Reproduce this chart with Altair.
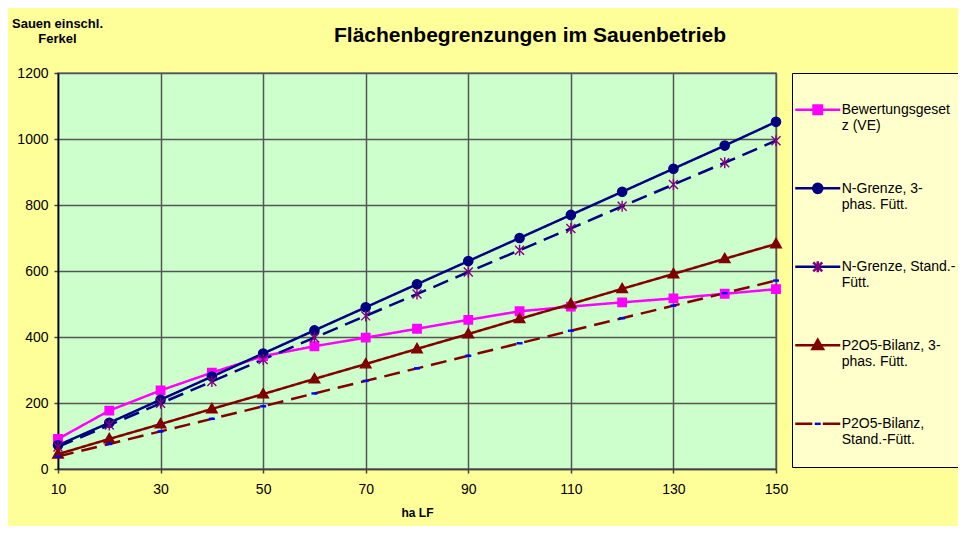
import altair as alt
import pandas as pd

# ---------------- data ----------------
HA = [10, 20, 30, 40, 50, 60, 70, 80, 90, 100, 110, 120, 130, 140, 150]
BEWERTUNG = [91, 177, 238, 292, 342, 372, 398, 425, 452, 478, 492, 505, 517, 531, 545]
N_3PHAS = [72, 140, 210, 280, 350, 420, 490, 560, 630, 700, 770, 840, 910, 980, 1052]
N_STAND = [67, 133, 199, 265, 332, 398, 464, 530, 597, 663, 729, 796, 862, 928, 995]
P_3PHAS = [45, 91, 136, 182, 227, 273, 318, 364, 409, 455, 500, 546, 591, 637, 682]
P_STAND = [38, 76, 114, 152, 190, 229, 267, 305, 343, 381, 419, 457, 495, 533, 571]

SERIES = [
    "Bewertungsgesetz (VE)",
    "N-Grenze, 3-phas. Fütt.",
    "N-Grenze, Stand.-Fütt.",
    "P2O5-Bilanz, 3-phas. Fütt.",
    "P2O5-Bilanz, Stand.-Fütt.",
]
LEGEND_LINES = [
    ["Bewertungsgeset", "z (VE)"],
    ["N-Grenze, 3-", "phas. Fütt."],
    ["N-Grenze, Stand.-", "Fütt."],
    ["P2O5-Bilanz, 3-", "phas. Fütt."],
    ["P2O5-Bilanz,", "Stand.-Fütt."],
]
X_TICKS = [10, 30, 50, 70, 90, 110, 130, 150]
Y_TICKS = [0, 200, 400, 600, 800, 1000, 1200]

TITLE = "Flächenbegrenzungen im Sauenbetrieb"
Y_TITLE = ["Sauen einschl.", "Ferkel"]
X_TITLE = "ha LF"

# ---------------- styles ----------------
FONT = "Liberation Sans"
LINE_COLORS = ["#FF00FF", "#000080", "#000080", "#800000", "#800000"]
MARKER_FILL = ["#FF00FF", "#000080", "transparent", "#800000", "#0000FF"]
MARKER_STROKE = ["#FF00FF", "#000080", "#800080", "#800000", "transparent"]
DASHES = [[1, 0], [1, 0], [16, 8], [1, 0], [16, 8]]


def path(cmds, unit, dx=0.0, dy=0.0):
    out = []
    for c in cmds:
        op = c[0]
        if op in "ML":
            out.append(f"{op}{(c[1] + dx) / unit:.4f},{(c[2] + dy) / unit:.4f}")
        elif op == "H":
            out.append(f"H{(c[1] + dx) / unit:.4f}")
        elif op == "V":
            out.append(f"V{(c[1] + dy) / unit:.4f}")
        elif op == "A":
            r = c[1] / unit
            out.append(f"A{r:.4f},{r:.4f},0,1,1,{(c[2] + dx) / unit:.4f},{(c[3] + dy) / unit:.4f}")
        elif op == "Z":
            out.append("Z")
    return "".join(out)


SQUARE = [("M", -4.2, -4.2), ("H", 4.2), ("V", 4.2), ("H", -4.2), ("Z",)]
CIRCLE = [("M", 4.6, 0), ("A", 4.6, -4.6, 0), ("A", 4.6, 4.6, 0), ("Z",)]
STAR = [("M", -4.5, -4.5), ("L", 4.5, 4.5), ("M", -4.5, 4.5), ("L", 4.5, -4.5), ("M", 0, -5.5), ("V", 5.5)]
TRIANGLE = [("M", 0, -5.5), ("L", 5.3, 3.8), ("L", -5.3, 3.8), ("Z",)]
DASH = [("M", -3, -1.2), ("H", 3), ("V", 1.2), ("H", -3), ("Z",)]
MARKERS = [SQUARE, CIRCLE, STAR, TRIANGLE, DASH]
LINE_FULL = [("M", -22.5, 0), ("H", 22.5)]
LINE_GAP = [("M", -22.5, 0), ("H", -5.5), ("M", 5, 0), ("H", 22.5)]
LEG_LINES = [LINE_FULL, LINE_FULL, LINE_FULL, LINE_FULL, LINE_GAP]

DATA_SIZE = 100
DATA_UNIT = DATA_SIZE ** 0.5 / 2
LEG_SIZE = 2025
LEG_UNIT = LEG_SIZE ** 0.5 / 2
LEG_PAD = 20
LEG_DX = -18.25
LEG_DY = -7.2

data_shapes = [path(m, DATA_UNIT) for m in MARKERS]
leg_marker_shapes = [path(m, LEG_UNIT, LEG_DX, LEG_DY) for m in MARKERS]
leg_line_shapes = [path(m, LEG_UNIT, LEG_DX, LEG_DY) for m in LEG_LINES]

rows = []
for name, vals in zip(SERIES, [BEWERTUNG, N_3PHAS, N_STAND, P_3PHAS, P_STAND]):
    for h, v in zip(HA, vals):
        rows.append({"ha": h, "value": v, "series": name})
df = pd.DataFrame(rows)

label_expr = " : ".join(
    f"datum.label == '{s}' ? {lines!r}" for s, lines in zip(SERIES, LEGEND_LINES)
) + " : datum.label"

x = alt.X(
    "ha:Q",
    scale=alt.Scale(domain=[10, 150], nice=False, zero=False),
    axis=alt.Axis(
        values=X_TICKS, format="d", title=X_TITLE, grid=True, labelFlush=False,
        gridColor="#555555", gridWidth=1.5,
        domainColor="#404040", domainWidth=1.5,
        tickColor="#404040", tickWidth=1.5, tickSize=4,
        labelFont=FONT, labelFontSize=14, labelColor="black", labelPadding=9,
        titleFont=FONT, titleFontSize=12, titleFontWeight="bold", titleColor="black",
        titleY=43, titleBaseline="middle",
    ),
)
y = alt.Y(
    "value:Q",
    scale=alt.Scale(domain=[0, 1200], nice=False),
    axis=alt.Axis(
        values=Y_TICKS, format="d", title=Y_TITLE, grid=True,
        gridColor="#555555", gridWidth=1.5,
        domainColor="black", domainWidth=1.5,
        tickColor="#404040", tickWidth=1.5, tickSize=4,
        labelFont=FONT, labelFontSize=14, labelColor="black", labelPadding=6,
        titleFont=FONT, titleFontSize=13, titleFontWeight="bold", titleColor="black",
        titleAngle=0, titleAlign="center", titleX=-1, titleY=-46,
        titleBaseline="alphabetic", titleLineHeight=15.5,
    ),
)

lines = alt.Chart(df).mark_line(strokeWidth=2.5).encode(
    x=x, y=y,
    stroke=alt.Stroke("series:N", scale=alt.Scale(domain=SERIES, range=LINE_COLORS), legend=None),
    strokeDash=alt.StrokeDash("series:N", scale=alt.Scale(domain=SERIES, range=DASHES), legend=None),
)

markers = alt.Chart(df).mark_point(filled=True, opacity=1, size=DATA_SIZE, strokeWidth=1.4).encode(
    x=x, y=y,
    shape=alt.Shape("series:N", scale=alt.Scale(domain=SERIES, range=data_shapes), legend=None),
    fill=alt.Fill("series:N", scale=alt.Scale(domain=SERIES, range=MARKER_FILL), legend=None),
    stroke=alt.Stroke("series:N", scale=alt.Scale(domain=SERIES, range=MARKER_STROKE), legend=None),
)


def legend(box, opacity, sw):
    kw = dict(
        orient="none", legendX=734, legendY=0, direction="vertical", title=None,
        symbolSize=LEG_SIZE, symbolStrokeWidth=sw, symbolOpacity=1,
        labelExpr=label_expr, labelFont=FONT, labelFontSize=14, labelColor="black",
        labelLimit=400, labelOffset={"expr": str(LEG_DX)}, labelOpacity=opacity,
        labelBaseline="bottom",
        padding=LEG_PAD, rowPadding=38.5,
    )
    if box:
        kw.update(fillColor="#FFFFCC", strokeColor="black")
    return alt.Legend(**kw)


legA = legend(True, 1, 2.5)
legB = legend(False, 0, 2.5)

leg_lines = alt.Chart(df).transform_filter("false").mark_point(
    filled=False, opacity=1, strokeWidth=2.5
).encode(
    x=x, y=y,
    shape=alt.Shape("series:N", scale=alt.Scale(domain=SERIES, range=leg_line_shapes), legend=legA),
    stroke=alt.Stroke("series:N", scale=alt.Scale(domain=SERIES, range=LINE_COLORS), legend=legA),
)

leg_marks = alt.Chart(df).transform_filter("false").mark_point(
    filled=True, opacity=1, strokeWidth=1.4
).encode(
    x=x, y=y,
    shape=alt.Shape("series:N", scale=alt.Scale(domain=SERIES, range=leg_marker_shapes), legend=legB),
    fill=alt.Fill("series:N", scale=alt.Scale(domain=SERIES, range=MARKER_FILL), legend=legB),
    stroke=alt.Stroke("series:N", scale=alt.Scale(domain=SERIES, range=MARKER_STROKE), legend=legB),
)

chart = (
    alt.layer(lines, markers, leg_lines, leg_marks)
    .resolve_scale(stroke="independent", fill="independent", shape="independent", strokeDash="independent")
    .properties(
        width=718, height=396,
        title=alt.TitleParams(
            TITLE, font=FONT, fontSize=21, fontWeight="bold", color="black",
            anchor="middle", dx=113, dy=29, offset=0,
        ),
        background="#FFFF99",
        padding={"left": 50, "top": 65, "right": 182, "bottom": 57},
        autosize=alt.AutoSizeParams(type="none"),
    )
    .configure_view(fill="#CCFFCC", stroke="#808080", strokeWidth=1.5)
)

chart.save("out.html", embed_options={"renderer": "svg", "actions": False})
